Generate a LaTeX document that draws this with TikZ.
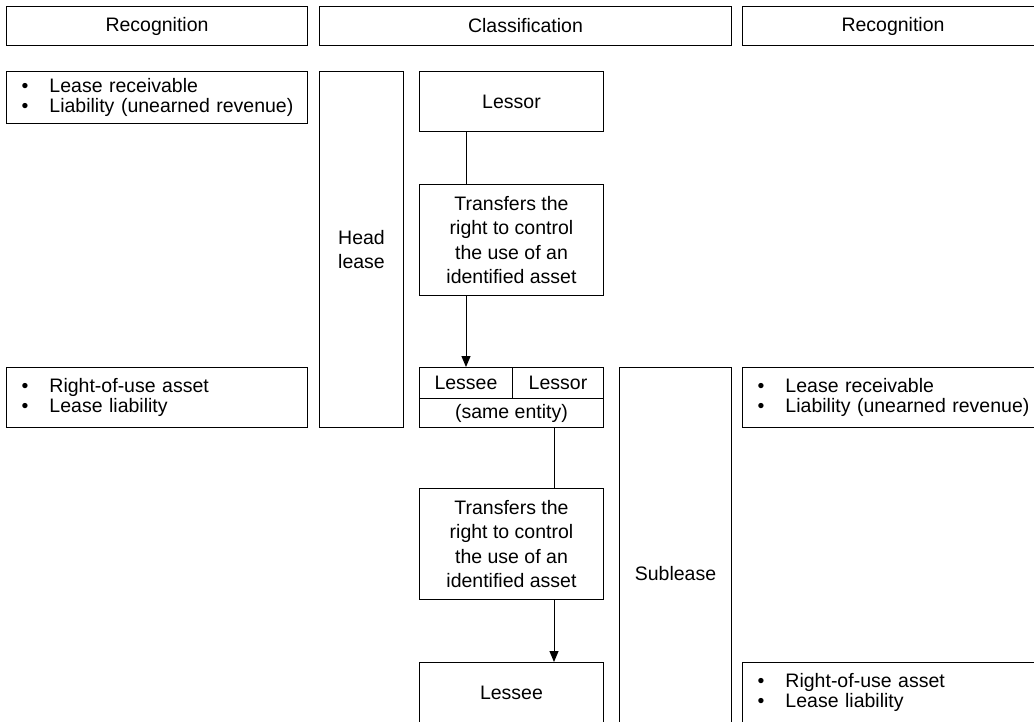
\documentclass[tikz,border=0pt]{standalone}
\usepackage{fontspec}
\setmainfont{Liberation Sans}
\usetikzlibrary{arrows.meta}

\tikzset{
	box/.style={draw,line width=1pt,inner sep=0pt,anchor=north west,align=center},
	twoline/.style={box,font=\fontsize{19.5}{24.5}\selectfont},
	bullets/.style={box,align=left,inner xsep=4pt,text width=293pt,minimum height=60pt,font=\fontsize{19.5}{20}\selectfont},
	conn/.style={line width=1pt},
	arr/.style={line width=1pt,-{Triangle[length=11pt,width=9pt]}}
}
\newcommand{\itm}{\hspace*{11pt}\makebox[28pt][l]{\textbullet}}

\begin{document}
\begin{tikzpicture}[x=1pt,y=-1pt,font=\fontsize{19.5}{24}\selectfont]
		\useasboundingbox (0,0) rectangle (1034,721);
		\clip (0,0) rectangle (1034,721);
		% headers
		\node[box,minimum width=301pt,minimum height=39pt] (recleft) at (6,6) {Recognition};
		\node[box,minimum width=412pt,minimum height=39pt] (classif) at (319,6) {Classification};
		\node[box,minimum width=301pt,minimum height=39pt] (recright) at (742,6) {Recognition};
		% head lease
		\node[bullets,minimum height=52pt] (headrec) at (6,71) {\itm Lease receivable\\\itm Liability (unearned revenue)};
		\node[twoline,minimum width=84pt,minimum height=356pt] (head) at (319,71) {Head\\lease};
		\node[box,minimum width=184pt,minimum height=60pt] (lessor) at (419,71) {Lessor};
		\node[twoline,minimum width=184pt,minimum height=111pt] (transA) at (419,184) {Transfers the\\right to control\\the use of an\\identified asset};
		% intermediate entity
		\node[box,minimum width=93pt,minimum height=31pt] (midlessee) at (419,367) {Lessee};
		\node[box,minimum width=91pt,minimum height=31pt] (midlessor) at (512,367) {Lessor};
		\node[box,minimum width=184pt,minimum height=29pt] (same) at (419,398) {(same entity)};
		\node[bullets] (headuse) at (6,367) {\itm Right-of-use asset\\\itm Lease liability};
		% sublease
		\node[twoline,minimum width=112pt,minimum height=412pt] (sub) at (619,367) {Sublease};
		\node[bullets] (subrec) at (742,367) {\itm Lease receivable\\\itm Liability (unearned revenue)};
		\node[twoline,minimum width=184pt,minimum height=111pt] (transB) at (419,488) {Transfers the\\right to control\\the use of an\\identified asset};
		\node[box,minimum width=184pt,minimum height=60pt] (lessee) at (419,662) {Lessee};
		\node[bullets] (subuse) at (742,662) {\itm Right-of-use asset\\\itm Lease liability};
		% connectors
		\draw[conn] (lessor.south -| midlessee) -- (transA.north -| midlessee);
		\draw[arr] (transA.south -| midlessee) -- (midlessee.north);
		\draw[conn] ([xshift=-4pt]same.south -| midlessor) -- ([xshift=-4pt]transB.north -| midlessor);
		\draw[arr] ([xshift=-4pt]transB.south -| midlessor) -- ([xshift=-4pt]lessee.north -| midlessor);
	\end{tikzpicture}
\end{document}
